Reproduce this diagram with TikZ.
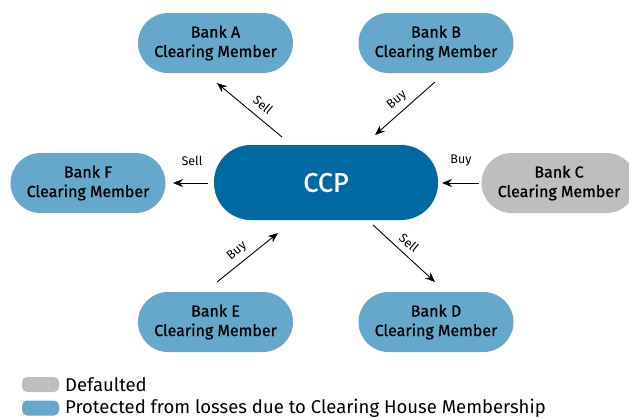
\documentclass[tikz,border=0pt]{standalone}
\usepackage{fontspec}
\setmainfont{Fira Sans}
\newfontfamily\medfont{Fira Sans}[FakeBold=0.8]
\usetikzlibrary{arrows.meta}
\definecolor{lblue}{HTML}{66A8CB}
\definecolor{dblue}{HTML}{0069A3}
\definecolor{dgrey}{HTML}{BDBEC0}
\begin{document}
\begin{tikzpicture}[x=1pt,y=-1pt,
  bank/.style={rectangle,rounded corners=30pt,minimum width=155pt,minimum height=60pt,inner sep=0pt,align=center,font=\medfont\fontsize{16}{19.5}\selectfont,text=black},
  arr/.style={-{Stealth[length=10pt,width=8pt]},line width=0.9pt},
  lbl/.style={font=\fontsize{12.5}{14}\selectfont,inner sep=0pt},
  key/.style={rectangle,rounded corners=5pt,minimum width=37pt,minimum height=15pt,inner sep=0pt},
  keytext/.style={anchor=west,inner sep=0pt,font=\fontsize{18.5}{20}\selectfont}]
\useasboundingbox (0,0) rectangle (629,418);
\clip (0,0) rectangle (629,418);
\node[bank,fill=lblue] (a) at (215.5,43) {Bank A\\Clearing Member};
\node[bank,fill=lblue] (b) at (436,43) {Bank B\\Clearing Member};
\node[bank,fill=lblue] (f) at (88,183) {Bank F\\Clearing Member};
\node[bank,fill=dgrey] (c) at (559,183) {Bank C\\Clearing Member};
\node[bank,fill=lblue] (e) at (215.5,322) {Bank E\\Clearing Member};
\node[bank,fill=lblue] (d) at (436,322) {Bank D\\Clearing Member};
\node[rectangle,rounded corners=37pt,minimum width=224pt,minimum height=75pt,inner sep=0pt,fill=dblue,text=white,font=\medfont\fontsize{27}{30}\selectfont] (ccp) at (326,182.5) {CCP};
% connector end points
\coordinate (a1) at (282,137); \coordinate (a2) at (217,83);
\coordinate (b1) at (435,82); \coordinate (b2) at (375,135);
\coordinate (f1) at (208,183); \coordinate (f2) at (173,183);
\coordinate (c1) at (479,183); \coordinate (c2) at (442,183);
\coordinate (e1) at (217,282); \coordinate (e2) at (278,233);
\coordinate (d1) at (373,225); \coordinate (d2) at (435,282);
\draw[arr] (a1) -- (a2);
\draw[arr] (b1) -- (b2);
\draw[arr] (f1) -- (f2);
\draw[arr] (c1) -- (c2);
\draw[arr] (e1) -- (e2);
\draw[arr] (d1) -- (d2);
\node[lbl,rotate=-40] (la) at (263,105) {Sell};
\node[lbl,rotate=40] (lb) at (397,100) {Buy};
\node[lbl] (lf) at (192,161) {Sell};
\node[lbl] (lc) at (461,161) {Buy};
\node[lbl,rotate=40] (le) at (237,251) {Buy};
\node[lbl,rotate=-40] (ld) at (409,243) {Sell};
% legend
\node[key,fill=dgrey] (k1) at (40.5,384.5) {};
\node[key,fill=lblue] (k2) at (40.5,408) {};
\node[keytext] (t1) at (65,384.5) {Defaulted};
\node[keytext] (t2) at (65,408) {Protected from losses due to Clearing House Membership};
\end{tikzpicture}
\end{document}
